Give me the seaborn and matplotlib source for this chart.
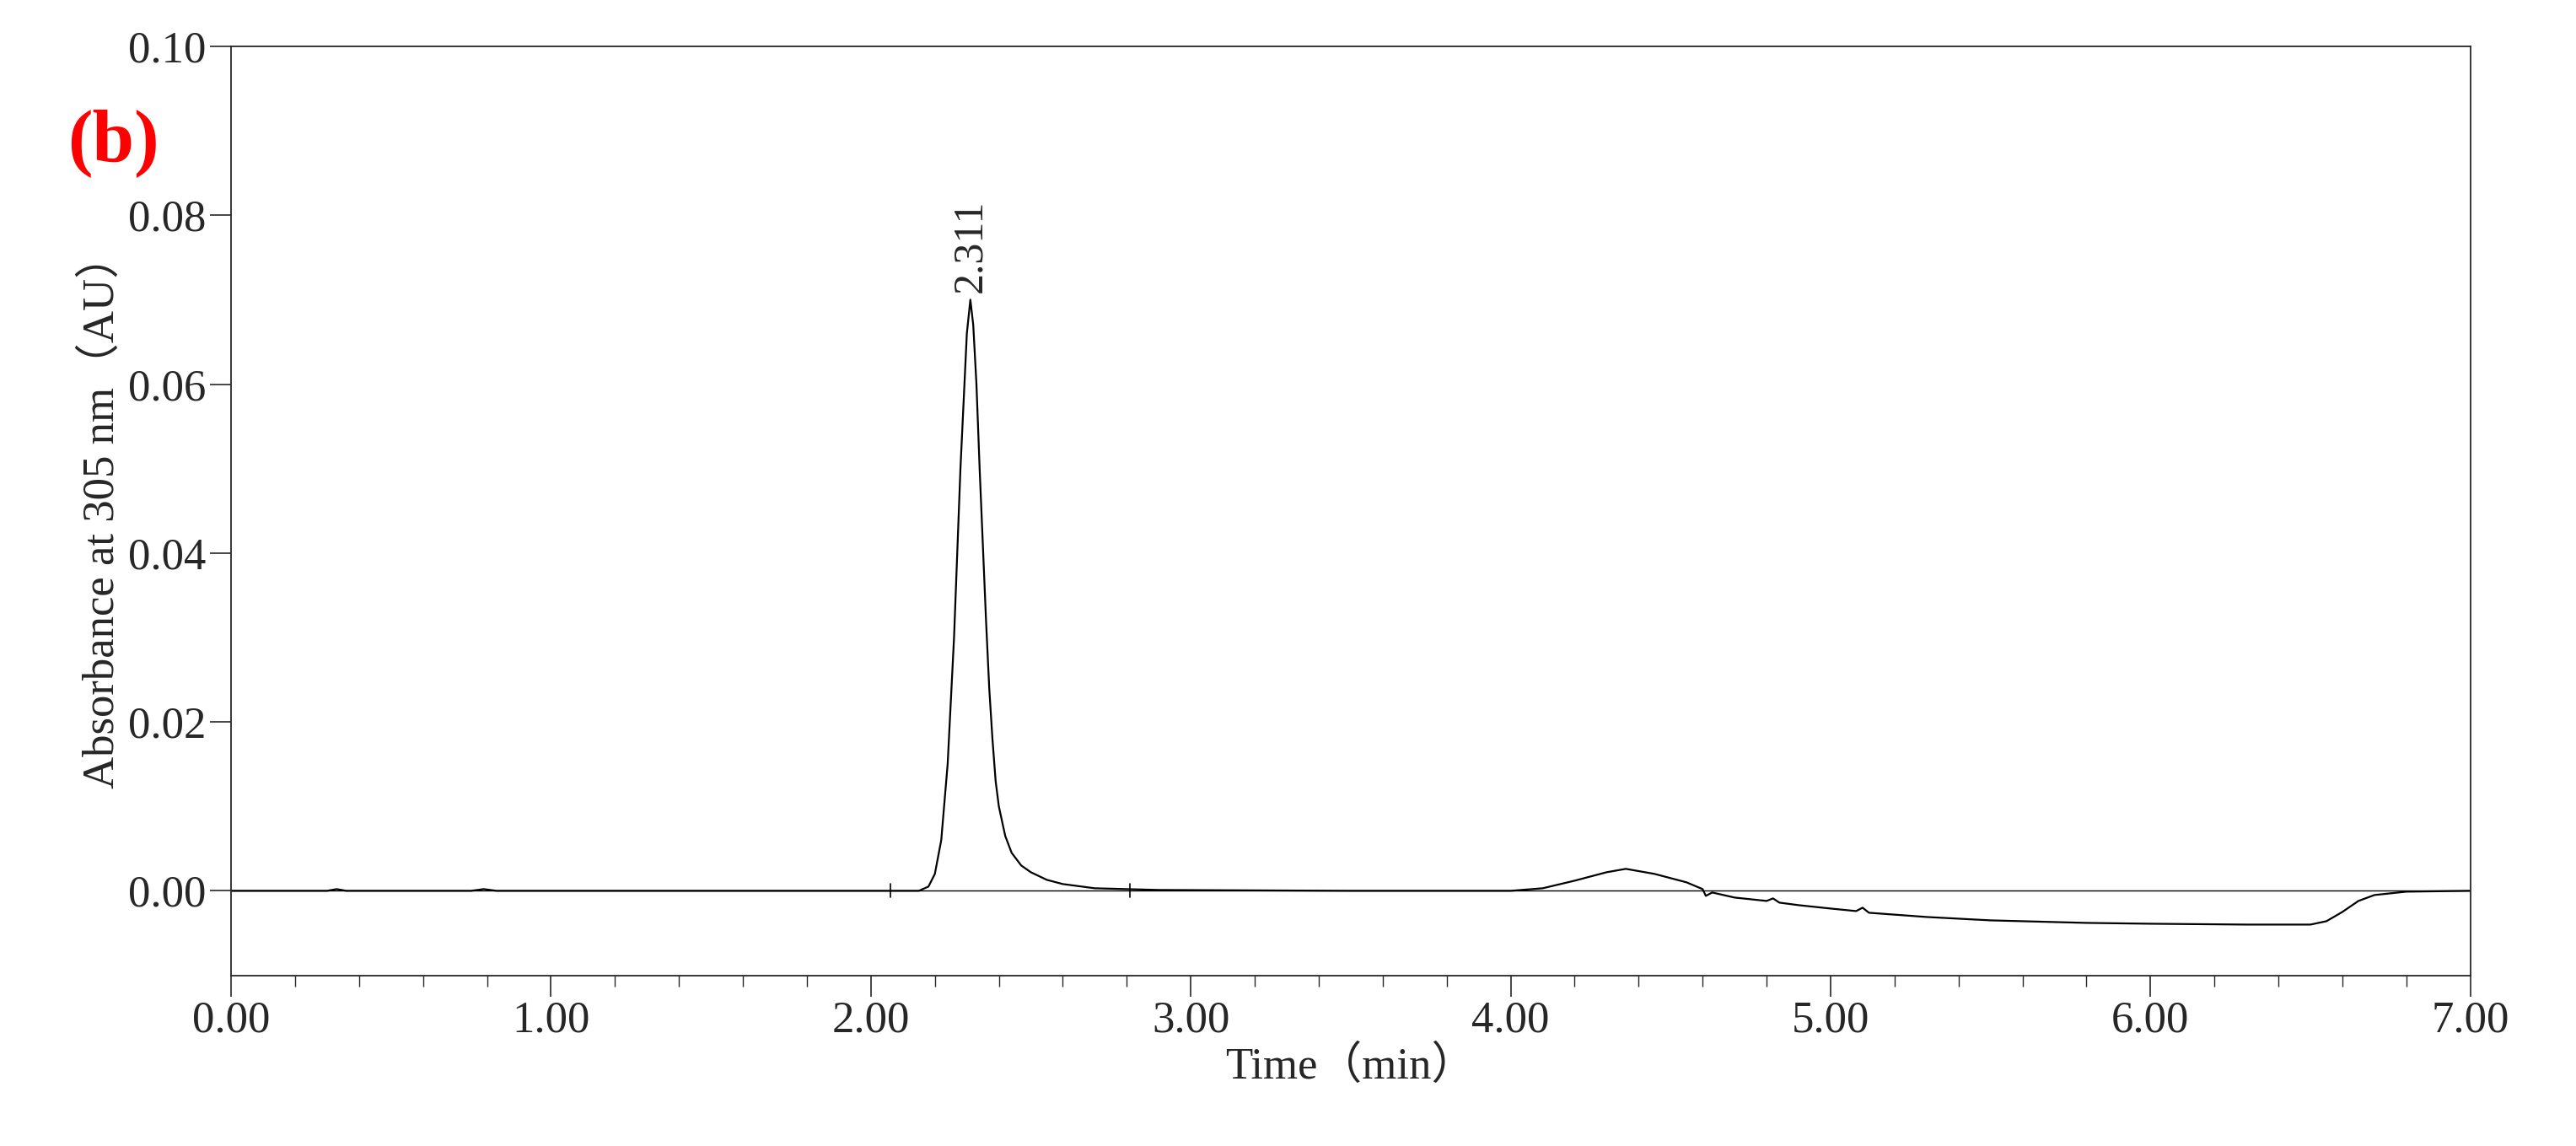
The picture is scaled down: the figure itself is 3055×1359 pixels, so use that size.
import matplotlib
matplotlib.use("Agg")
import matplotlib.pyplot as plt
import seaborn as sns
import pandas as pd
import numpy as np

time_min = [0.0, 0.30, 0.33, 0.36, 0.75, 0.79, 0.83, 1.5, 2.0, 2.15, 2.18, 2.20, 2.22, 2.24, 2.26, 2.28, 2.30, 2.311,
            2.32, 2.33, 2.34, 2.35, 2.36, 2.37, 2.38, 2.39, 2.40, 2.42, 2.44, 2.47, 2.50, 2.55, 2.60, 2.70, 2.90, 3.5, 4.0, 4.1, 4.2, 4.3, 4.36,
            4.45, 4.55, 4.60, 4.61, 4.63, 4.70, 4.80, 4.82, 4.84, 4.90, 5.00, 5.08, 5.10, 5.12, 5.30, 5.50,
            5.80, 6.00, 6.30, 6.50, 6.55, 6.60, 6.65, 6.70, 6.80, 7.00]
absorbance = [0.0, 0.0, 0.0002, 0.0, 0.0, 0.0002, 0.0, 0.0, 0.0, 0.0, 0.0005, 0.002, 0.006, 0.015, 0.030, 0.050, 0.066, 0.070,
              0.067, 0.060, 0.050, 0.041, 0.032, 0.024, 0.018, 0.013, 0.010, 0.0065, 0.0045, 0.003, 0.0022, 0.0013, 0.0008, 0.0003, 0.0001, 0.0, 0.0, 0.0003, 0.0012, 0.0022, 0.0026,
              0.0020, 0.0010, 0.0002, -0.0006, -0.0002, -0.0008, -0.0012, -0.0009, -0.0014, -0.0017, -0.0021, -0.0024, -0.0020, -0.0026, -0.0031, -0.0035,
              -0.0038, -0.0039, -0.0040, -0.0040, -0.0036, -0.0025, -0.0012, -0.0005, -0.0001, 0.0]
baseline_marks = [2.06, 2.81]
peak_time = 2.311
peak_height = 0.070
peak_label = "2.311"
xticks = [0, 1, 2, 3, 4, 5, 6, 7]
xtick_labels = ["0.00", "1.00", "2.00", "3.00", "4.00", "5.00", "6.00", "7.00"]
yticks = [0.0, 0.02, 0.04, 0.06, 0.08, 0.10]
ytick_labels = ["0.00", "0.02", "0.04", "0.06", "0.08", "0.10"]

sns.set_style("ticks")
plt.rcParams['font.family'] = ['Liberation Serif', 'Noto Sans CJK SC']

fig = plt.figure(figsize=(30.55, 13.59), dpi=100)
ax = fig.add_axes([0.0897, 0.149, 0.8693, 0.8105])
df = pd.DataFrame({"t": time_min, "a": absorbance})
sns.lineplot(data=df, x="t", y="a", ax=ax, color="black", lw=1.6)
ax.plot([0, 7], [0, 0], color="black", lw=1.0)
for b in baseline_marks:
    ax.plot([b, b], [-0.0008, 0.0008], color="black", lw=1.2)
ax.text(peak_time, peak_height + 0.0008, peak_label, rotation=90, ha="center", va="bottom", fontsize=36)

ax.set_xlim(0, 7)
ax.set_ylim(-0.01, 0.10)
ax.set_xticks(xticks)
ax.set_xticklabels(xtick_labels)
ax.set_xticks(np.arange(0, 7.01, 0.2), minor=True)
ax.set_yticks(yticks)
ax.set_yticklabels(ytick_labels)
ax.tick_params(axis="both", which="major", labelsize=38, length=18, width=1.2, direction="out")
ax.tick_params(axis="x", which="minor", length=9, width=1.0)
for s in ax.spines.values():
    s.set_visible(True)
    s.set_linewidth(1.3)
ax.set_xlabel("Time（min）", fontsize=38)
ax.set_ylabel("Absorbance at 305 nm（AU）", fontsize=38)
fig.text(0.044, 0.875, "(b)", color="red", fontsize=64, fontweight="bold", ha="center", va="center")
fig.savefig("out.png", dpi=100, facecolor="white")
